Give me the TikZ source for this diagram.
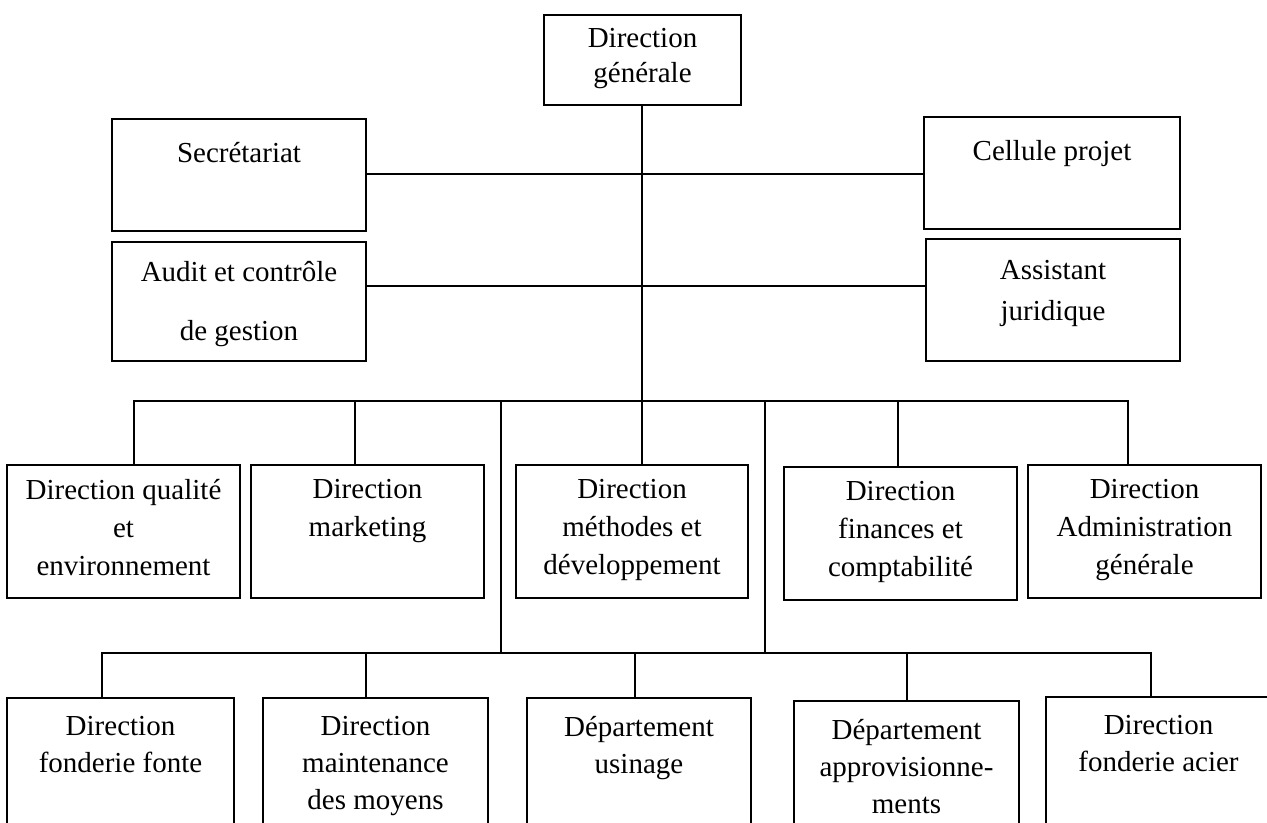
\documentclass[tikz,border=0pt]{standalone}
\usepackage{fontspec}
\setmainfont{Liberation Serif}
\tikzstyle{bx}=[draw, line width=0.9pt, rectangle, inner sep=0]
\tikzstyle{lb}=[anchor=north, inner sep=0, yshift=-9pt, align=center, font=\fontsize{14.5}{18.5}\selectfont]
\tikzstyle{lbw}=[lb, yshift=1.5pt, font=\fontsize{14.5}{19}\selectfont]
\tikzstyle{ln}=[line width=0.8pt]

\begin{document}
\begin{tikzpicture}[x=0.5pt, y=-0.5pt]
\useasboundingbox (0,0) rectangle (1267,823);
\clip (0,0) rectangle (1267,823);
\node at (642.5,60) [bx, minimum width=98.5pt, minimum height=45pt, label={[lb, yshift=2pt]north:{Direction\\[-1pt]générale}}](dg){};
\node at (239,175) [bx, minimum width=127pt, minimum height=56pt, label={[lb, yshift=-3pt]north:Secrétariat}](sec){};
\node at (239,301.5) [bx, minimum width=127pt, minimum height=59.5pt, label={[lb, yshift=-1pt]north:{Audit et contrôle\\[11pt]de gestion}}](audit){};
\node at (1052,173) [bx, minimum width=128pt, minimum height=56pt, label={[lb, yshift=-3pt]north:Cellule projet}](cp){};
\node at (1053,300) [bx, minimum width=127pt, minimum height=61pt, label={[lb, yshift=-2pt]north:{Assistant\\[2pt]juridique}}](aj){};

\node at (123.5,531.5) [bx, minimum width=116.5pt, minimum height=66.5pt, label={[lbw]north:{Direction qualité\\et\\environnement}}](q){};
\node at (367.5,531.5) [bx, minimum width=116.5pt, minimum height=66.5pt, label={[lbw]north:{Direction\\marketing}}](m){};
\node at (632,531.5) [bx, minimum width=116pt, minimum height=66.5pt, label={[lbw]north:{Direction\\méthodes et\\développement}}](md){};
\node at (900.5,533.5) [bx, minimum width=116.5pt, minimum height=66.5pt, label={[lbw]north:{Direction\\finances et\\comptabilité}}](f){};
\node at (1144.5,531.5) [bx, minimum width=116.5pt, minimum height=66.5pt, label={[lbw]north:{Direction\\Administration\\générale}}](a){};

\node at (120.5,773) [bx, minimum width=113.5pt, minimum height=75pt, label={[lb, yshift=-0.5pt]north:{Direction\\fonderie fonte}}](ff){};
\node at (375.5,773) [bx, minimum width=112.5pt, minimum height=75pt, label={[lb, yshift=-0.5pt]north:{Direction\\maintenance\\des moyens}}](mm){};
\node at (639,773) [bx, minimum width=112pt, minimum height=75pt, label={[lb, yshift=-0.5pt]north:{Département\\usinage}}](du){};
\node at (906.5,776) [bx, minimum width=112.5pt, minimum height=75pt, label={[lb, yshift=-0.5pt]north:{Département\\approvisionne-\\ments}}](da){};
\node at (1158.5,772) [bx, minimum width=112.5pt, minimum height=75pt, label={[lb, yshift=-0.5pt]north:{Direction\\fonderie acier}}](fa){};

\coordinate (s1) at (642,174);
\coordinate (s2) at (642,286);
\coordinate (s3) at (642,401);
\coordinate (b1) at (134,401);
\coordinate (b2) at (355,401);
\coordinate (b3) at (501,401);
\coordinate (b4) at (765,401);
\coordinate (b5) at (898,401);
\coordinate (b6) at (1128,401);
\coordinate (c1) at (102,653);
\coordinate (c2) at (366,653);
\coordinate (c3) at (501,653);
\coordinate (c4) at (635,653);
\coordinate (c5) at (765,653);
\coordinate (c6) at (907,653);
\coordinate (c7) at (1151,653);

\draw[ln] (s1 |- dg.south) -- (s3);
\draw[ln] (sec.east |- s1) -- (cp.west |- s1);
\draw[ln] (audit.east |- s2) -- (aj.west |- s2);
\draw[ln] (b1 |- q.north) -- (b1) -- (b6) -- (b6 |- a.north);
\draw[ln] (b2) -- (b2 |- m.north);
\draw[ln] (s3) -- (s3 |- md.north);
\draw[ln] (b5) -- (b5 |- f.north);
\draw[ln] (b3) -- (c3);
\draw[ln] (b4) -- (c5);
\draw[ln] (c1 |- ff.north) -- (c1) -- (c7) -- (c7 |- fa.north);
\draw[ln] (c2) -- (c2 |- mm.north);
\draw[ln] (c4) -- (c4 |- du.north);
\draw[ln] (c6) -- (c6 |- da.north);
\end{tikzpicture}
\end{document}
